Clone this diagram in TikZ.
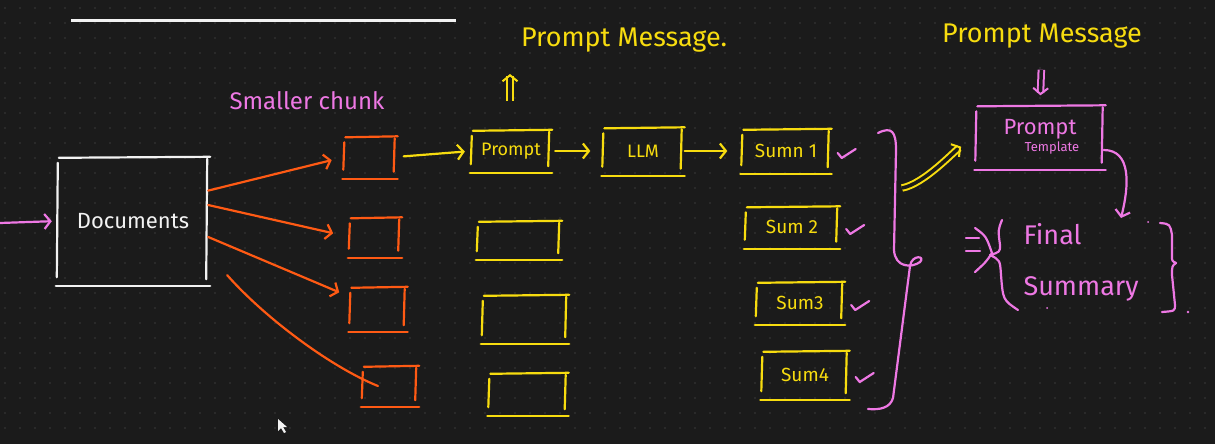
\documentclass[tikz,border=0pt]{standalone}
\usepackage{fontspec}
\newfontfamily\handfont{Fira Sans}
\usetikzlibrary{arrows.meta,positioning}
\definecolor{board}{HTML}{1B1B1B}
\definecolor{griddot}{HTML}{3A3A3A}
\definecolor{chalk}{HTML}{F2F2F2}
\definecolor{chunkorange}{HTML}{FF5A14}
\definecolor{marker}{HTML}{F7DC0F}
\definecolor{pinkink}{HTML}{EE78E4}

\begin{document}
\begin{tikzpicture}[x=1pt,y=-1pt,
    ink/.style={line width=2.2pt,line cap=round,line join=round},
    barb/.style={-{Straight Barb[length=6pt,width=15pt]}},
    twoline/.style={double=board,double distance=3.5pt,line width=2pt},
    handtext/.style={font=\handfont\fontsize{#1}{#1}\selectfont},
    boxdim/.style 2 args={minimum width=#1pt,minimum height=#2pt},
    sketchbox/.style={inner sep=0pt,text=#1,append after command={
        ([xshift=1pt]\tikzlastnode.north west) edge[ink,draw=#1] ([xshift=2pt,yshift=1pt]\tikzlastnode.north east)
        ([yshift=-5pt]\tikzlastnode.north west) edge[ink,draw=#1] ([xshift=-1pt,yshift=7pt]\tikzlastnode.south west)
        ([xshift=-1pt,yshift=-1pt]\tikzlastnode.north east) edge[ink,draw=#1] ([xshift=-2pt,yshift=5pt]\tikzlastnode.south east)
        ([xshift=-2pt,yshift=-2pt]\tikzlastnode.south west) edge[ink,draw=#1] ([xshift=2pt,yshift=-2pt]\tikzlastnode.south east)
    }}]
    \useasboundingbox (0,0) rectangle (1215,444);
    \fill[board] (0,0) rectangle (1215,444);
    \foreach \gx in {5,20,...,1210}
      \foreach \gy in {8,23,...,440}
        \fill[griddot] (\gx,\gy) circle (0.9pt);

    % header rule
    \draw[line width=3pt,chalk] (71,21) -- (456,21);

    % documents and chunks
    \node[sketchbox=chalk,boxdim={150}{126},handtext=22] (docs) at (133,221) {Documents};
    \coordinate (docin) at (0,223);
    \node[sketchbox=chunkorange,boxdim={51}{39}] (c1) at (370,157) {};
    \node[sketchbox=chunkorange,boxdim={50}{37}] (c2) at (375,237) {};
    \node[sketchbox=chunkorange,boxdim={55}{42}] (c3) at (378,309) {};
    \node[sketchbox=chunkorange,boxdim={54}{38}] (c4) at (390,386) {};
    \node[handtext=24,text=pinkink] (chunklabel) at (307,101) {Smaller chunk};

    % prompt, llm, summaries
    \node[sketchbox=marker,boxdim={78}{40},handtext=18] (prompt) at (511,151) {Prompt};
    \node[sketchbox=marker,boxdim={82}{36}] (e2) at (519,240) {};
    \node[sketchbox=marker,boxdim={84}{46}] (e3) at (525,319) {};
    \node[sketchbox=marker,boxdim={77}{40}] (e4) at (528,394) {};
    \node[sketchbox=marker,boxdim={79}{45},handtext=18] (llm) at (643,151) {LLM};
    \node[sketchbox=marker,boxdim={87}{42},handtext=19] (s1) at (786,151) {Sumn 1};
    \node[sketchbox=marker,boxdim={92}{39},handtext=19] (s2) at (792,227) {Sum 2};
    \node[sketchbox=marker,boxdim={86}{40},handtext=19] (s3) at (800,303) {Sum3};
    \node[sketchbox=marker,boxdim={85}{46},handtext=19] (s4) at (805,375) {Sum4};
    \node[handtext=27,text=marker] (pmsg1) at (624,40) {Prompt Message.};
    \coordinate (upfrom) at (510,101);
    \coordinate (upto) at (510,74);

    % template and final summary
    \node[sketchbox=pinkink,boxdim={127}{61},align=center,font=\handfont] (tmpl) at (1040,137)
      {\fontsize{22}{22}\selectfont Prompt\\[2pt]\hspace*{24pt}\fontsize{13}{13}\selectfont Template};
    \node[handtext=27,text=marker] (pmsg2) at (1042,36) {Prompt Message};
    \node[handtext=27,text=pinkink,align=left,anchor=west] (final) at (1020,262) {Final\\[24pt]Summary};
    \coordinate (bracepoint) at (902,188);
    \coordinate (finalin) at (1121,218);

    % connectors
    \draw[ink,pinkink,barb,shorten >=6pt] (docin) -- (docs.west);
    \draw[ink,chunkorange,barb,shorten >=13pt] (docs.22) -- (c1.west);
    \draw[ink,chunkorange,barb,shorten >=17pt] (docs.12) -- (c2.west);
    \draw[ink,chunkorange,barb,shorten >=12pt] (docs.-12) -- ([yshift=12pt]c3.west);
    \draw[ink,chunkorange] ([shift={(19pt,9pt)}]docs.south east)
      .. controls +(40,45) and +(-45,-18) .. ([xshift=-12pt]c4.center);
    \draw[ink,marker,barb,shorten <=8pt,shorten >=7pt] (c1.east) -- (prompt.west);
    \draw[ink,marker,barb,shorten <=5pt,shorten >=13pt] (prompt.east) -- (llm.west);
    \draw[ink,marker,barb,shorten <=2pt,shorten >=15pt] (llm.east) -- (s1.west);
    \draw[marker,twoline,barb] (upfrom) -- (upto);
    \draw[pinkink,twoline,barb,shorten <=18pt,shorten >=11pt] (pmsg2.south) -- (tmpl.north);
    \draw[marker,twoline,barb,shorten >=18pt] (bracepoint) .. controls +(22,-4) and +(-22,14) .. (tmpl.west);
    \draw[ink,pinkink,barb] ([yshift=-13pt]tmpl.east) .. controls +(28,0) and +(8,-32) .. (finalin);

    % ticks
    \foreach \s in {s1,s2,s3,s4}
      \draw[ink,pinkink] ([xshift=8pt,yshift=-2pt]\s.east) -- ++(4,5) -- ++(14,-9);

    % braces
    \draw[ink,pinkink] (878,133) .. controls (892,126) and (896,132) .. (896,150) -- (894,250)
      .. controls (895,268) and (912,268) .. (920,262) .. controls (926,256) and (912,254) .. (910,266)
      -- (893,398) .. controls (890,408) and (880,410) .. (868,409);
    \draw[ink,pinkink] (966,238) -- (979,238) (966,251) -- (980,251);
    \draw[ink,pinkink] (975,228) .. controls (986,236) .. (992,253) .. controls (986,262) .. (975,272);
    \draw[ink,pinkink] (1002,220) .. controls (998,230) .. (1000,245) .. controls (1000,252) .. (990,255)
      .. controls (1000,260) .. (1001,275) .. controls (1003,300) .. (1018,310);
    \draw[ink,pinkink] (1160,223) .. controls (1170,224) .. (1172,235) -- (1172,256) .. controls (1172,261) .. (1176,263)
      .. controls (1172,266) .. (1172,275) -- (1175,305) .. controls (1175,311) .. (1162,312);
    \fill[pinkink] (1188,312) circle (1.3pt) (1148,222) circle (1pt) (1047,308) circle (1pt);

    % pointer
    \fill[chalk] (278,419) -- (278,431) -- (281,428) -- (284,433) -- (286,432) -- (283,427) -- (287,427) -- cycle;
\end{tikzpicture}
\end{document}
